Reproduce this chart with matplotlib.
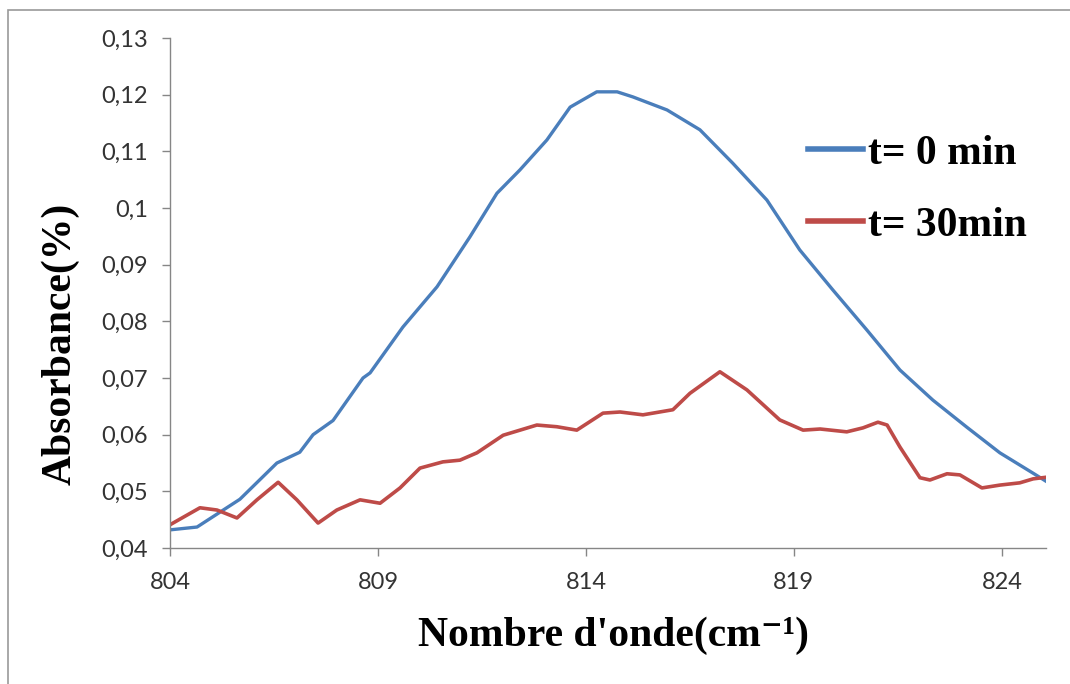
import numpy as np
import matplotlib
matplotlib.use("Agg")
import matplotlib.pyplot as plt
from matplotlib.patches import Rectangle

# absorbance, t = 0 min
wn_0 = [804.0, 804.65, 805.68, 806.57, 807.12, 807.44, 807.92, 808.64, 808.81, 809.6,
        810.42, 811.21, 811.86, 812.41, 813.06, 813.62, 814.26, 814.75, 815.13, 815.95,
        816.74, 817.53, 818.35, 819.14, 819.94, 820.75, 821.55, 822.34, 823.16, 823.95,
        824.75, 825.1]
abs_0 = [0.0432, 0.0437, 0.0486, 0.0550, 0.0569, 0.0600, 0.0625, 0.0700, 0.0709, 0.0790,
         0.0861, 0.0949, 0.1026, 0.1067, 0.1120, 0.1178, 0.1205, 0.1205, 0.1196, 0.1173,
         0.1138, 0.1079, 0.1014, 0.0926, 0.0855, 0.0785, 0.0714, 0.0661, 0.0613, 0.0568,
         0.0532, 0.0516]

# t = 30 min
wn_30 = [804.0, 804.72, 805.13, 805.61, 806.09, 806.6, 807.05, 807.56, 808.01, 808.57,
         809.05, 809.53, 810.01, 810.56, 810.97, 811.38, 812.01, 812.82, 813.3, 813.78,
         814.41, 814.82, 815.37, 816.09, 816.5, 817.22, 817.87, 818.66, 819.22, 819.63,
         820.27, 820.66, 821.02, 821.24, 821.55, 822.03, 822.27, 822.68, 822.99, 823.52,
         823.95, 824.43, 824.75, 825.08]
abs_30 = [0.0441, 0.0471, 0.0467, 0.0453, 0.0485, 0.0516, 0.0485, 0.0444, 0.0467, 0.0485,
          0.0479, 0.0506, 0.0541, 0.0552, 0.0555, 0.0568, 0.0599, 0.0617, 0.0614, 0.0608,
          0.0638, 0.0640, 0.0635, 0.0644, 0.0673, 0.0711, 0.0679, 0.0626, 0.0608, 0.0610,
          0.0605, 0.0612, 0.0622, 0.0617, 0.0578, 0.0524, 0.0520, 0.0531, 0.0529, 0.0506,
          0.0511, 0.0515, 0.0522, 0.0525]

labels = ["t= 0 min", "t= 30min"]
xticks = [804, 809, 814, 819, 824]
yticks = [0.04, 0.05, 0.06, 0.07, 0.08, 0.09, 0.10, 0.11, 0.12, 0.13]

fig = plt.figure(figsize=(10.7, 6.84), dpi=100)
ax = fig.add_axes([170/1070, 1-548/684, 876/1070, 510/684])

ax.plot(wn_0, abs_0, color='#4A7EBB', lw=2.4, label=labels[0])
ax.plot(wn_30, abs_30, color='#BE4B48', lw=2.6, label=labels[1])

ax.set_xlim(804, 825.06)
ax.set_ylim(0.04, 0.13)
ax.set_xticks(xticks)
ax.set_yticks(yticks)
ax.set_xticklabels([str(v) for v in xticks])
ax.set_yticklabels([f"{v:g}".replace('.', ',') for v in yticks])

for s in ['top', 'right']:
    ax.spines[s].set_visible(False)
for s in ['left', 'bottom']:
    ax.spines[s].set_color('#868686')
    ax.spines[s].set_linewidth(1.0)
ax.tick_params(axis='both', direction='out', length=6, width=1, color='#868686',
               labelsize=17, labelcolor='#333333')
ax.tick_params(axis='y', pad=10)
ax.tick_params(axis='x', pad=11)
for t in ax.get_xticklabels() + ax.get_yticklabels():
    t.set_fontfamily('Lato')

serif = ['Liberation Serif', 'DejaVu Serif']
fig.text(60/1070, 1-344/684, "Absorbance(%)", rotation=90, ha='center', va='center',
         fontsize=30, fontweight='bold', family=serif)
fig.text(614/1070, 1-636/684, "Nombre d'onde(cm\u207b\u00b9)", ha='center', va='center',
         fontsize=30, fontweight='bold', family=serif)

leg = ax.legend(loc='upper left', bbox_to_anchor=(0.728, 0.81), borderaxespad=0,
                borderpad=0, frameon=False, handlelength=1.32, handletextpad=0.12,
                labelspacing=0.8, prop={'family': 'Liberation Serif', 'weight': 'bold', 'size': 30})
for l in leg.get_lines():
    l.set_linewidth(4)

# outer frame of the chart area
fig.patches.append(Rectangle((8/1070, -0.05), 1.0, 1-10/684+0.05, transform=fig.transFigure,
                             fill=False, edgecolor='#9a9a9a', lw=1.2))

fig.savefig("out.png", dpi=100)
